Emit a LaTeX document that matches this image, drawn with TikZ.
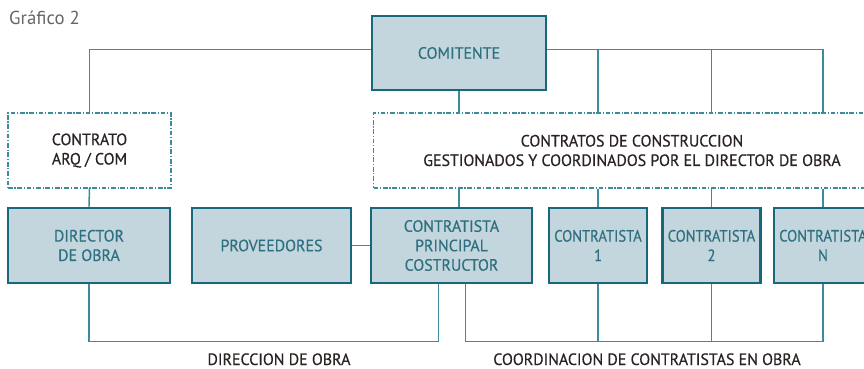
\documentclass[tikz,border=0pt]{standalone}
\usepackage{fontspec}
\setmainfont{PT Sans}
\newfontfamily\boxfont[FakeBold=0.5, FakeStretch=0.97]{PT Sans}
\newfontfamily\narrowfont[FakeBold=0.5, FakeStretch=0.89]{PT Sans}
\usetikzlibrary{calc}

\definecolor{tealdark}{HTML}{17687A}
\definecolor{tealline}{HTML}{3C8D99}
\definecolor{boxfill}{HTML}{C3D6DD}
\definecolor{boxtext}{HTML}{2F7080}
\definecolor{labeltext}{HTML}{2B2222}

\tikzset{
  entity/.style={draw=tealdark, line width=2.4pt, fill=boxfill, text=boxtext,
                 align=center, minimum height=2.25cm, inner sep=1pt,
                 font=\fontsize{14}{16.6}\boxfont},
  contract/.style={draw=tealline, line width=0.9pt, fill=white, text=labeltext,
                   dash pattern=on 4pt off 1.5pt on 1pt off 1.5pt,
                   align=center, minimum height=2.25cm,
                   font=\fontsize{14}{16.6}\boxfont},
  link/.style={draw=tealline, line width=1.3pt},
  caption/.style={anchor=base, inner sep=0pt, text=labeltext, font=\fontsize{14}{16}\boxfont},
}

\begin{document}
\begin{tikzpicture}[x=0.03cm, y=-0.03cm]

  \useasboundingbox (0, 0) rectangle (864, 369);
  \clip (0, 0) rectangle (864, 369);

  \node[anchor=base west, inner sep=0pt, text=black!60, font=\fontsize{16}{18}\selectfont] (title) at (9, 25) {Gráfico 2};

  % top
  \node[entity, minimum width=5.22cm, minimum height=2.22cm] (comitente) at (459, 53) {COMITENTE};

  % contracts
  \node[contract, minimum width=4.89cm] (contrato) at (89.5, 150.5) {CONTRATO\\ARQ / COM};
  \node[contract, minimum width=15.5cm] (contratos) at (632, 150.5)
       {CONTRATOS DE CONSTRUCCION\\GESTIONADOS Y COORDINADOS POR EL DIRECTOR DE OBRA};

  % bottom row
  \node[entity, minimum width=4.86cm] (director) at (89, 245.5) {DIRECTOR\\DE OBRA};
  \node[entity, minimum width=4.77cm] (proveedores) at (271.5, 245.5) {PROVEEDORES};
  \node[entity, minimum width=4.83cm] (principal) at (451.5, 245.5) {CONTRATISTA\\PRINCIPAL\\COSTRUCTOR};
  \foreach \x/\name/\n in {598/c1/1, 711.5/c2/2, 823/cn/N} {
    \node[entity, minimum width=2.94cm, font=\fontsize{14}{16.6}\narrowfont] (\name) at (\x, 245.5)
         {CONTRATISTA\\\n};
  }

  % links from the top
  \draw[link] ([yshift=3pt]comitente.west) -| (contrato.north);
  \draw[link] ([yshift=3pt]comitente.east) -| (contratos.north -| cn);
  \foreach \c in {c1, c2} {
    \draw[link] ([yshift=3pt]comitente.east -| \c) -- (contratos.north -| \c);
  }
  \draw[link] (comitente.south) -- (contratos.north -| comitente.south);

  % links to the bottom row
  \draw[link] (contrato.south) -- (director.north);
  \draw[link] (contratos.south -| comitente.south) -- (principal.north -| comitente.south);
  \foreach \c in {c1, c2, cn} {
    \draw[link] (contratos.south -| \c) -- (\c.north);
  }
  \draw[link] (proveedores) -- (principal);

  % base lines
  \draw[link] (director.south) -- ++(0, 57) -| ([xshift=-11pt]principal.south);
  \draw[link] ([xshift=12pt]principal.south) -- ++(0, 57) -| (cn.south);
  \foreach \c in {c1, c2} {
    \draw[link] (\c.south) -- ++(0, 57);
  }

  \node[caption] (direccion) at (279, 365) {DIRECCION DE OBRA};
  \node[caption] (coordinacion) at (647, 365) {COORDINACION DE CONTRATISTAS EN OBRA};

\end{tikzpicture}
\end{document}
